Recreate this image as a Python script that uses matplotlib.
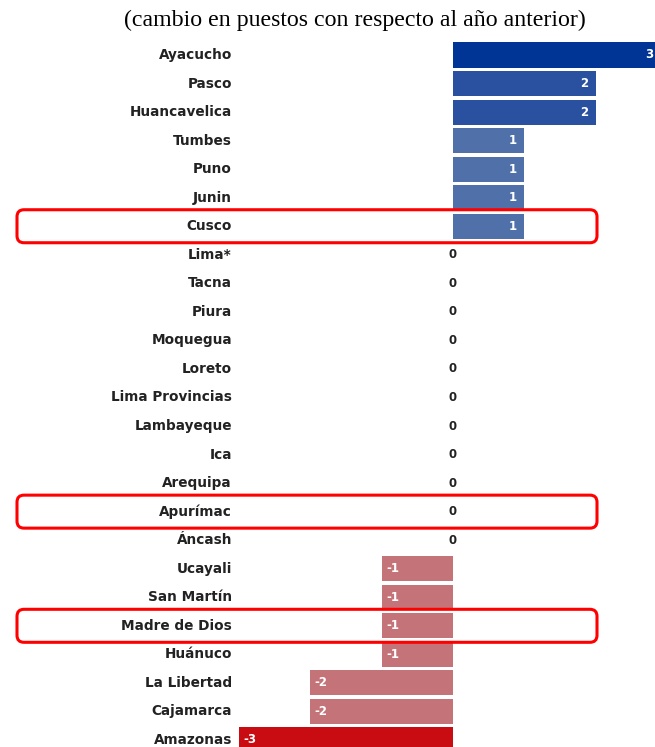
import matplotlib.pyplot as plt
from matplotlib.patches import FancyBboxPatch

regiones = ["Ayacucho", "Pasco", "Huancavelica", "Tumbes", "Puno", "Junin", "Cusco",
            "Lima*", "Tacna", "Piura", "Moquegua", "Loreto", "Lima Provincias",
            "Lambayeque", "Ica", "Arequipa", "Apurímac", "Áncash", "Ucayali",
            "San Martín", "Madre de Dios", "Huánuco", "La Libertad", "Cajamarca", "Amazonas"]
cambio = [3, 2, 2, 1, 1, 1, 1, 0, 0, 0, 0, 0, 0, 0, 0, 0, 0, 0, -1, -1, -1, -1, -2, -2, -3]
resaltadas = ["Cusco", "Apurímac", "Madre de Dios"]
titulo = "(cambio en puestos con respecto al año anterior)"

colores = {3: "#003596", 2: "#2a50a0", 1: "#5070aa", 0: "#ffffff",
           -1: "#c47378", -2: "#c47378", -3: "#c80c12"}

W, H = 655, 747
fig = plt.figure(figsize=(W / 100, H / 100), dpi=100)

# pixel geometry
x0_px, unit_px = 453, 71.3
row0_px, row_px = 55, 28.54
ax_left, ax_right = 230, 655
n = len(regiones)
top_px = row0_px - row_px / 2
bot_px = row0_px + row_px * (n - 0.5)
ax = fig.add_axes([ax_left / W, 1 - bot_px / H, (ax_right - ax_left) / W, (bot_px - top_px) / H])
xmax = (ax_right - x0_px) / unit_px
ax.set_xlim((ax_left - x0_px) / unit_px, xmax)
ax.set_ylim(n - 0.5, -0.5)
ax.axis("off")

ypos = list(range(n))
ax.barh(ypos, cambio, height=0.88, color=[colores[v] for v in cambio])

name_font = dict(family="DejaVu Sans", fontweight="bold", fontsize=9.8)
val_font = dict(family="DejaVu Sans", fontweight="bold", fontsize=8.5)
for y, name, v in zip(ypos, regiones, cambio):
    ax.text((232 - x0_px) / unit_px, y, name, ha="right", va="center", color="#222222",
            clip_on=False, **name_font)
    if v > 0:
        ax.text(min(v - 0.1, xmax - 0.03), y, str(v), ha="right", va="center",
                color="white", **val_font)
    elif v < 0:
        ax.text(v + 0.06, y, str(v), ha="left", va="center", color="white", **val_font)
    else:
        ax.text(0, y, "0", ha="center", va="center", color="#222222", **val_font)

fig.text(355 / W, 1 - 20 / H, titulo, ha="center", va="center",
         family="Liberation Serif", fontsize=17.2)

# red rounded boxes around highlighted rows (display pixels)
fig.canvas.draw()
for name in resaltadas:
    i = regiones.index(name)
    _, yc = ax.transData.transform((0, i))
    box = FancyBboxPatch((17, yc - 16.5), 580, 33, boxstyle="round,pad=0,rounding_size=7",
                         transform=None, fill=False, edgecolor="#ff0000", linewidth=2.2)
    fig.add_artist(box)

fig.savefig("out.png", dpi=100)
